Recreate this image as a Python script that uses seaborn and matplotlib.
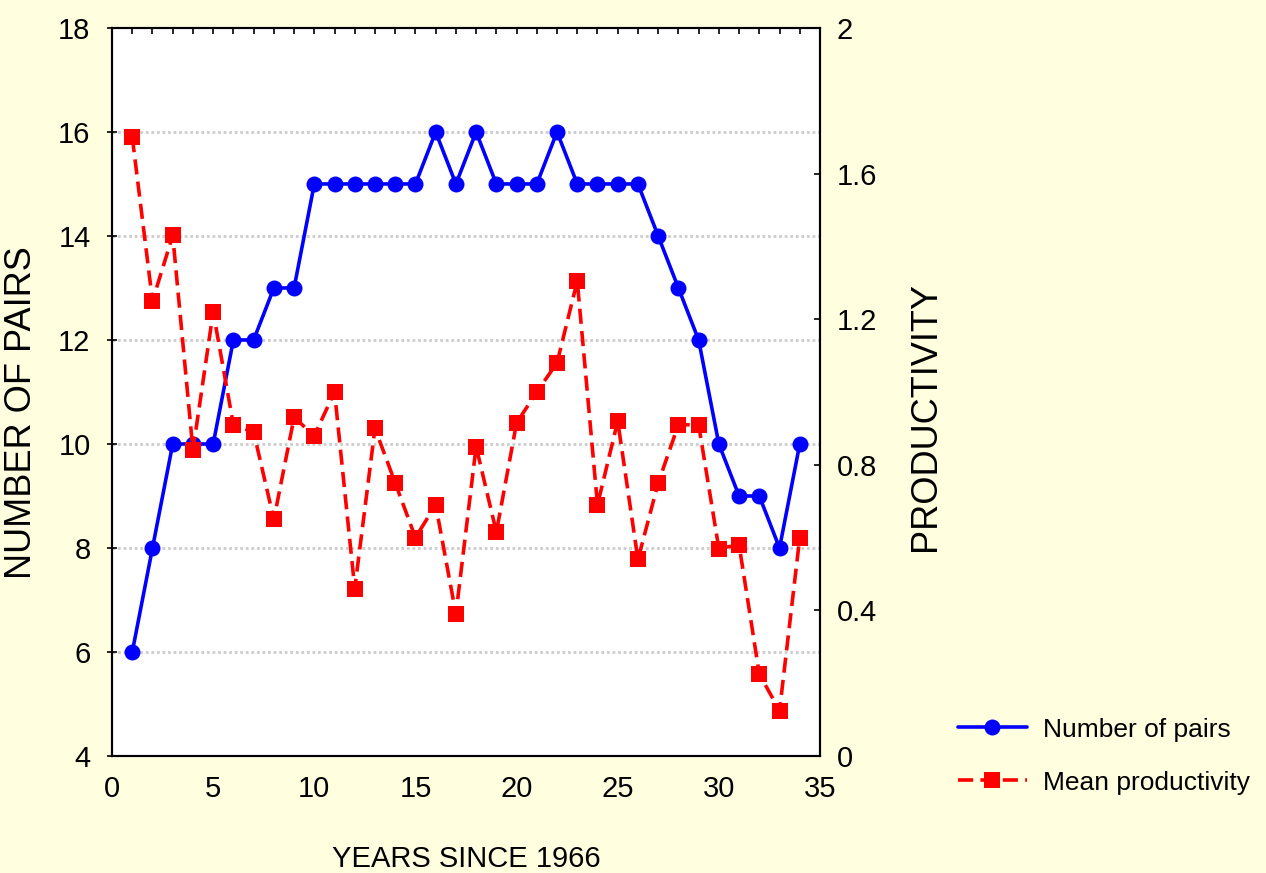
import pandas as pd
import matplotlib.pyplot as plt
import seaborn as sns
from matplotlib.lines import Line2D

years = list(range(1, 35))
pairs = [6, 8, 10, 10, 10, 12, 12, 13, 13, 15, 15, 15, 15, 15, 15, 16, 15,
         16, 15, 15, 15, 16, 15, 15, 15, 15, 14, 13, 12, 10, 9, 9, 8, 10]
productivity = [1.70, 1.25, 1.43, 0.84, 1.22, 0.91, 0.89, 0.65, 0.93, 0.88,
                1.00, 0.46, 0.90, 0.75, 0.60, 0.69, 0.39, 0.85, 0.615, 0.915,
                1.00, 1.08, 1.305, 0.69, 0.92, 0.54, 0.75, 0.91, 0.91, 0.57,
                0.58, 0.225, 0.125, 0.60]

df = pd.DataFrame({'year': years, 'pairs': pairs, 'prod': productivity})

sns.set_style('white')
plt.rcParams['font.family'] = ['Liberation Sans', 'DejaVu Sans']
plt.rcParams['text.color'] = 'black'
plt.rcParams['axes.labelcolor'] = 'black'
plt.rcParams['xtick.color'] = 'black'
plt.rcParams['ytick.color'] = 'black'

bg = '#FFFFE0'
blue = '#0000FF'
red = '#FF0000'
dash = (0, (4.2, 2.0))

fig = plt.figure(figsize=(12.66, 8.73), dpi=100, facecolor=bg)
ax = fig.add_axes([0.0885, 0.134, 0.5592, 0.834])
ax.set_facecolor('white')
ax2 = ax.twinx()

sns.lineplot(data=df, x='year', y='pairs', ax=ax, color=blue, lw=2.6,
             marker='o', markersize=11.5, markeredgewidth=0, zorder=3)
sns.lineplot(data=df, x='year', y='prod', ax=ax2, color=red, lw=2.6,
             linestyle=dash, marker='s', markersize=11, markeredgewidth=0, zorder=3)

ax.set_xlim(0, 35)
ax.set_ylim(4, 18)
ax2.set_ylim(0, 2)
ax.set_xticks(range(0, 36, 5))
ax.set_yticks(range(4, 19, 2))
ax2.set_yticks([0, 0.4, 0.8, 1.2, 1.6, 2])
ax2.set_yticklabels(['0', '0.4', '0.8', '1.2', '1.6', '2'])

# small ticks along the top edge, one per year
ax.tick_params(axis='x', which='major', top=False)
sec = ax.secondary_xaxis('top')
sec.set_xticks(range(1, 35))
sec.tick_params(direction='in', length=4, width=1.2, labeltop=False)
sec.spines['top'].set_visible(False)

for y in range(6, 18, 2):
    ax.axhline(y, color='#CCCCCC', lw=2, ls=(0, (1, 1)), zorder=0)

ax.tick_params(axis='x', direction='in', length=4, width=1.2, labelsize=21, pad=14)
ax.tick_params(axis='y', direction='inout', length=7, width=1.2, labelsize=21, pad=12)
ax2.tick_params(axis='y', direction='in', length=4, width=1.2, labelsize=21, pad=12)
for a in (ax, ax2):
    for s in a.spines.values():
        s.set_color('black')
        s.set_linewidth(1.5)

ax.set_xlabel('YEARS SINCE 1966', fontsize=21, labelpad=30)
ax.set_ylabel('NUMBER OF PAIRS', fontsize=26, labelpad=14)
ax.yaxis.label.set_y(0.472)
ax2.set_ylabel('PRODUCTIVITY', fontsize=26, labelpad=22)
ax2.yaxis.label.set_y(0.466)

handles = [
    Line2D([], [], color=blue, lw=2.6, marker='o', markersize=11.5, markeredgewidth=0),
    Line2D([], [], color=red, lw=2.6, ls=dash, marker='s', markersize=11,
           markeredgewidth=0),
]
fig.legend(handles, ['Number of pairs', 'Mean productivity'], loc='center left',
           bbox_to_anchor=(0.738, 0.134), frameon=False, fontsize=19,
           handlelength=2.6, handletextpad=0.6, labelspacing=1.1)

fig.savefig('out.png', dpi=100, facecolor=bg)
